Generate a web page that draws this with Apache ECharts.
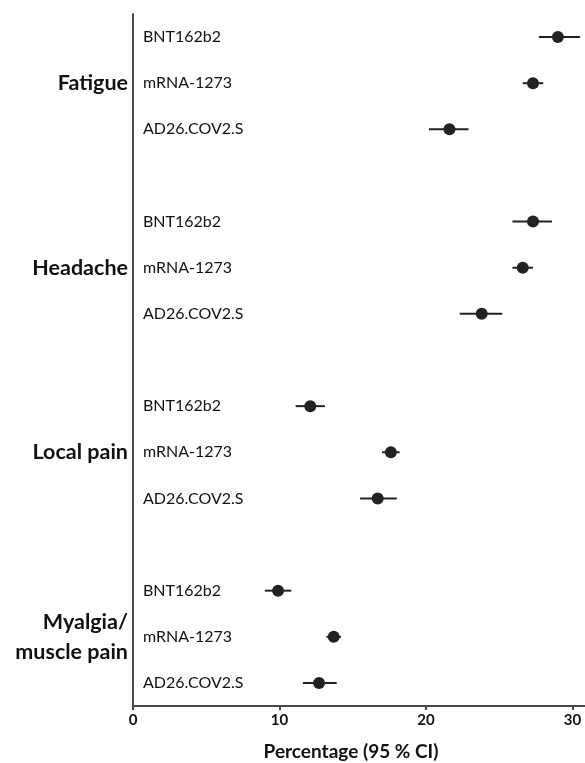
<!DOCTYPE html>
<html>
<head>
<meta charset="utf-8">
<script src="https://cdn.jsdelivr.net/npm/echarts@6/dist/echarts.min.js"></script>
<style>
html,body{margin:0;padding:0;background:#fff;}
#chart{width:585px;height:763px;}
</style>
</head>
<body>
<div id="chart"></div>
<script>
// ---- data ----
var outcomes = ['Fatigue', 'Headache', 'Local pain', 'Myalgia/\nmuscle pain'];
var vaccines = ['BNT162b2', 'mRNA-1273', 'AD26.COV2.S'];
// estimates [outcome][vaccine]
var estimate = [
  [29.0, 27.3, 21.6],
  [27.3, 26.6, 23.8],
  [12.1, 17.6, 16.7],
  [9.9, 13.7, 12.7]
];
var lower = [
  [27.7, 26.6, 20.2],
  [25.9, 25.9, 22.3],
  [11.1, 17.0, 15.5],
  [9.0, 13.2, 11.6]
];
var upper = [
  [30.5, 28.0, 22.9],
  [28.6, 27.3, 25.2],
  [13.1, 18.2, 18.0],
  [10.8, 14.2, 13.9]
];
var xTicks = [0, 10, 20, 30];
var xTitle = 'Percentage (95 % CI)';

// ---- build category slots (3 rows per outcome + 1 gap between outcomes) ----
var slots = [], slotVaccine = {}, slotOutcome = {};
outcomes.forEach(function (o, i) {
  vaccines.forEach(function (v, j) {
    var id = 'r' + i + '_' + j;
    slots.push(id);
    slotVaccine[id] = v;
    if (j === 1) slotOutcome[id] = o;
  });
  if (i < outcomes.length - 1) slots.push('gap' + i);
});

var points = [];
outcomes.forEach(function (o, i) {
  vaccines.forEach(function (v, j) {
    points.push([estimate[i][j], 'r' + i + '_' + j, lower[i][j], upper[i][j]]);
  });
});

var FONT = 'Lato';
var chart = echarts.init(document.getElementById('chart'));
chart.setOption({
  animation: false,
  backgroundColor: '#fff',
  grid: { left: 133, right: 0, top: 14, bottom: 57, containLabel: false, outerBoundsMode: 'none' },
  xAxis: {
    type: 'value',
    min: 0,
    max: 30.85,
    interval: 10,
    splitLine: { show: false },
    axisLine: { show: true, lineStyle: { color: '#4a4a4a', width: 2 } },
    axisTick: { show: true, length: 4, lineStyle: { color: '#4a4a4a', width: 2 } },
    axisLabel: {
      showMaxLabel: false,
      margin: 7,
      color: '#111', fontFamily: FONT, fontWeight: 'bold', fontSize: 15,
      formatter: function (v) { return xTicks.indexOf(v) >= 0 ? String(v) : ''; }
    },
    name: xTitle,
    nameLocation: 'middle',
    nameGap: 36,
    nameTextStyle: { color: '#111', fontFamily: FONT, fontWeight: 'bold', fontSize: 19, padding: [0, 16, 0, 0] }
  },
  yAxis: [
    {
      type: 'category',
      data: slots,
      inverse: true,
      position: 'left',
      axisLine: { show: true, onZero: false, lineStyle: { color: '#4a4a4a', width: 2 } },
      axisTick: { show: false },
      splitLine: { show: false },
      axisLabel: {
        inside: true,
        margin: 10,
        color: '#111', fontFamily: FONT, fontSize: 16,
        formatter: function (v) { return slotVaccine[v] || ''; }
      }
    },
    {
      type: 'category',
      data: slots,
      inverse: true,
      position: 'left',
      axisLine: { show: false },
      axisTick: { show: false },
      splitLine: { show: false },
      axisLabel: {
        margin: 5,
        interval: 0,
        color: '#111', fontFamily: FONT, fontWeight: 'bold', fontSize: 21.5,
        lineHeight: 30,
        align: 'right',
        formatter: function (v) { return slotOutcome[v] || ''; }
      }
    }
  ],
  series: [
    {
      type: 'custom',
      yAxisIndex: 0,
      data: points,
      encode: { x: [0, 2, 3], y: 1 },
      renderItem: function (params, api) {
        var y = api.value(1);
        var p1 = api.coord([api.value(2), y]);
        var p2 = api.coord([api.value(3), y]);
        return {
          type: 'line',
          shape: { x1: p1[0], y1: p1[1], x2: p2[0], y2: p2[1] },
          style: { stroke: '#222', lineWidth: 2 }
        };
      },
      z: 2
    },
    {
      type: 'scatter',
      yAxisIndex: 0,
      data: points.map(function (p) { return [p[0], p[1]]; }),
      symbol: 'circle',
      symbolSize: 12,
      itemStyle: { color: '#222', opacity: 1 },
      z: 3
    }
  ]
});
</script>
</body>
</html>
